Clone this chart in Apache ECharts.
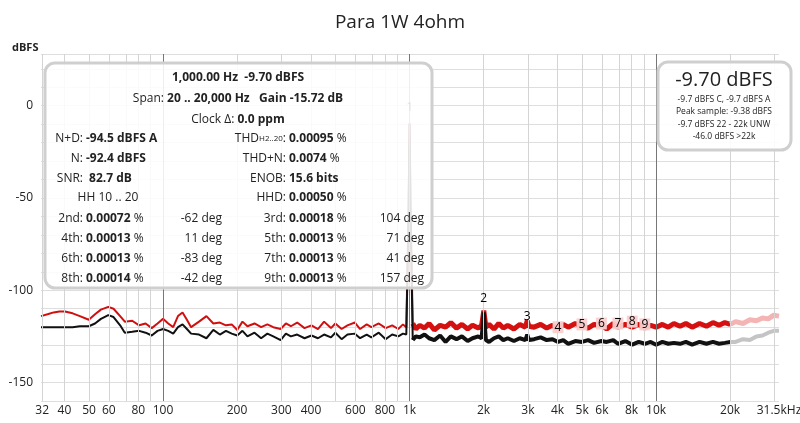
<!DOCTYPE html>
<html>
<head>
<meta charset="utf-8">
<script src="https://cdn.jsdelivr.net/npm/echarts@6/dist/echarts.min.js"></script>
<style>html,body{margin:0;padding:0;background:#fff}#chart{width:800px;height:423px}</style>
</head>
<body>
<div id="chart"></div>
<script>
// frequencies (Hz) and levels (dBFS)
var freqs = [32,34,36,38,40,43,46,50,53,56,60,63,67,70,75,80,85,90,95,100,105,110,115,120,125,130,140,150,160,170,180,190,200,210,220,235,250,265,280,300,315,330,350,375,400,425,450,480,500,530,560,600,630,670,700,750,800,850,900,940,970,990,1000,1010,1030,1060,1100,1150,1200,1260,1330,1400,1470,1550,1630,1720,1800,1900,1960,2000,2040,2100,2200,2300,2400,2500,2650,2800,2950,3000,3050,3200,3400,3600,3800,4000,4200,4400,4700,5000,5300,5600,6000,6300,6700,7000,7500,8000,8500,9000,9500,10000,10600,11200,11800,12500,13200,14000,15000,16000,17000,18000,19000,20000,21000,22500,24000,25500,27000,28500,30000,31500];
var redLevels = [-114,-113,-112,-111.5,-111.5,-112.5,-114,-116,-113,-110.5,-109,-110,-114,-117,-116.5,-119,-118,-120.5,-118,-115.5,-118,-120,-114,-112,-116,-120,-117,-114,-118,-117.5,-119,-118.5,-121.5,-117,-119.5,-118,-120,-118.5,-120,-121,-118,-119.5,-117.5,-120.5,-119,-121,-117,-120.5,-118,-121,-119,-117.5,-121,-118.5,-120,-118,-120.5,-119,-121,-118.5,-120,-60,-9.7,-60,-118,-121,-119,-120.5,-118,-121.5,-119,-120,-117.5,-120.5,-118.5,-121,-119,-120.5,-119,-111,-120,-118.5,-121,-118,-120.5,-119,-121,-118.5,-120,-116.5,-119.5,-120,-118.5,-120.5,-119,-121,-118.5,-120,-118,-119.5,-120.5,-118.5,-119,-121,-118,-120,-118.5,-120,-118.5,-120.5,-119,-120,-118.5,-120,-118,-119.5,-118,-120,-118,-119.5,-117.5,-119,-117.5,-118.5,-117,-118,-116,-116.5,-115,-115.5,-113.5,-114];
var blackLevels = [-120,-120,-120,-120,-120,-120,-119.5,-119.5,-118,-115.5,-113.5,-114.5,-119,-123,-122.5,-122,-123,-124.5,-122,-121,-122,-123.5,-120,-118.5,-121,-123.5,-124,-126,-121.5,-124,-122,-123.5,-124.5,-122,-125,-123,-126,-123.5,-125,-127,-123.5,-125,-124,-126,-124.5,-126,-124,-125.5,-123,-126.5,-124,-123.5,-126,-124,-125.5,-123,-126.5,-124,-125,-123.5,-124,-60,-9.7,-60,-127,-125,-125.5,-124,-126,-127,-124.5,-128,-125,-126.5,-125,-127.5,-126,-125,-126,-112,-127,-128,-126,-125,-127,-126,-127.5,-126,-127,-124,-127,-126.5,-125.5,-127,-126.5,-128,-127,-129,-127.5,-128,-127,-128.5,-127.5,-128,-127,-129,-127.5,-129.5,-128,-129,-128,-129.5,-128,-129,-128.5,-129,-128,-129.5,-128,-129,-128,-129,-128.5,-128,-128,-126.5,-127,-125,-124.5,-123,-122,-122];
var denseFrom = 1030;
var bandEdge = 20000;

var gridFreqs = [40,50,60,70,80,90,100,200,300,400,500,600,700,800,900,1000,2000,3000,4000,5000,6000,7000,8000,9000,10000,20000,30000];
var tickLabels = {32:'32',40:'40',50:'50',60:'60',80:'80',100:'100',200:'200',300:'300',400:'400',600:'600',800:'800',1000:'1k',2000:'2k',3000:'3k',4000:'4k',5000:'5k',6000:'6k',8000:'8k',10000:'10k',20000:'20k'};
var harmonicFreqs = [1000,2000,3000,4000,5000,6000,7000,8000,9000];
var harmonicLabelLevels = [-1,-104.5,-114,-120,-118.5,-118,-118,-117,-118.5];

function lg(f){ return Math.log10(f); }
function part(lo, hi, lv){
  var out = [];
  for (var i = 0; i < freqs.length; i++) if (freqs[i] >= lo && freqs[i] <= hi) out.push([lg(freqs[i]), lv[i]]);
  return out;
}

var vlines = [];
gridFreqs.forEach(function(f){
  var major = (f === 100 || f === 1000 || f === 10000);
  vlines.push({xAxis: lg(f), label:{show:!!tickLabels[f], formatter: tickLabels[f] || ''},
    lineStyle:{color: major ? '#777' : '#d4d4d4', width:1, type:'solid'}});
});
vlines.push({xAxis: lg(32), label:{show:true, formatter:'32'}, lineStyle:{color:'#d4d4d4', width:1, type:'solid'}});
vlines.push({xAxis: lg(31400), label:{show:false}, lineStyle:{color:'#d4d4d4', width:1, type:'solid'}});

var font = '"Open Sans", "Noto Sans", sans-serif';
var chart = echarts.init(document.getElementById('chart'));

function cell(x, y, label, value, unit){
  return [
    {type:'text', x:x, y:y, style:{text:label, font:'12px '+font, fill:'#222', align:'right', verticalAlign:'middle'}, z:101},
    {type:'text', x:x+3, y:y, style:{text:'{b|'+value+'}'+(unit||''), rich:{b:{fontWeight:'bold', fontSize:12, fontFamily:font}}, font:'12px '+font, fill:'#222', align:'left', verticalAlign:'middle'}, z:101}
  ];
}
function rtext(x, y, t){
  return {type:'text', x:x, y:y, style:{text:t, font:'12px '+font, fill:'#222', align:'right', verticalAlign:'middle'}, z:101};
}

var rows = [139,159,179,198,219,239,259,279];
var g = [
  {type:'rect', shape:{x:45, y:63, width:387, height:225, r:10}, style:{fill:'rgba(255,255,255,0.88)', stroke:'#cfcfcf', lineWidth:3}, z:100},
  {type:'text', x:238, y:78, style:{text:'{b|1,000.00 Hz  -9.70 dBFS}', rich:{b:{fontWeight:'bold', fontSize:12, fontFamily:font}}, fill:'#222', align:'center', verticalAlign:'middle'}, z:101},
  {type:'text', x:238, y:99, style:{text:'Span: {b|20 .. 20,000 Hz   Gain -15.72 dB}', rich:{b:{fontWeight:'bold', fontSize:12, fontFamily:font}}, font:'12px '+font, fill:'#222', align:'center', verticalAlign:'middle'}, z:101},
  {type:'text', x:238, y:120, style:{text:'Clock \u0394: {b|0.0 ppm}', rich:{b:{fontWeight:'bold', fontSize:12, fontFamily:font}}, font:'12px '+font, fill:'#222', align:'center', verticalAlign:'middle'}, z:101},
  {type:'text', x:108, y:rows[3], style:{text:'HH 10 .. 20', font:'12px '+font, fill:'#222', align:'center', verticalAlign:'middle'}, z:101},
  {type:'rect', shape:{x:658, y:62, width:133, height:88, r:10}, style:{fill:'rgba(255,255,255,0.9)', stroke:'#cfcfcf', lineWidth:3}, z:100},
  {type:'text', x:724, y:80, style:{text:'-9.70 dBFS', font:'20px '+font, fill:'#222', align:'center', verticalAlign:'middle'}, z:101},
  {type:'text', x:724, y:100, style:{text:'-9.7 dBFS C, -9.7 dBFS A', font:'8.5px '+font, fill:'#222', align:'center', verticalAlign:'middle'}, z:101},
  {type:'text', x:724, y:112, style:{text:'Peak sample: -9.38 dBFS', font:'8.5px '+font, fill:'#222', align:'center', verticalAlign:'middle'}, z:101},
  {type:'text', x:724, y:125, style:{text:'-9.7 dBFS 22 - 22k UNW', font:'8.5px '+font, fill:'#222', align:'center', verticalAlign:'middle'}, z:101},
  {type:'text', x:724, y:137, style:{text:'-46.0 dBFS >22k', font:'8.5px '+font, fill:'#222', align:'center', verticalAlign:'middle'}, z:101}
];
g = g.concat(cell(83, rows[0], 'N+D:', '-94.5 dBFS A'));
g = g.concat(cell(83, rows[1], 'N:', '-92.4 dBFS'));
g = g.concat(cell(83, rows[2], 'SNR:', ' 82.7 dB'));
g.push({type:'text', x:286, y:rows[0], style:{text:'THD{s|H2..20}:', rich:{s:{fontSize:8, fontFamily:font}}, font:'12px '+font, fill:'#222', align:'right', verticalAlign:'middle'}, z:101});
g.push({type:'text', x:289, y:rows[0], style:{text:'{b|0.00095} %', rich:{b:{fontWeight:'bold', fontSize:12, fontFamily:font}}, font:'12px '+font, fill:'#222', align:'left', verticalAlign:'middle'}, z:101});
g = g.concat(cell(286, rows[1], 'THD+N:', '0.0074', ' %'));
g = g.concat(cell(286, rows[2], 'ENOB:', '15.6 bits'));
g = g.concat(cell(286, rows[3], 'HHD:', '0.00050', ' %'));
var hRows = [
  ['2nd:','0.00072','-62 deg','3rd:','0.00018','104 deg'],
  ['4th:','0.00013','11 deg','5th:','0.00013','71 deg'],
  ['6th:','0.00013','-83 deg','7th:','0.00013','41 deg'],
  ['8th:','0.00014','-42 deg','9th:','0.00013','157 deg']
];
hRows.forEach(function(r, i){
  var y = rows[4+i];
  g = g.concat(cell(83, y, r[0], r[1], ' %'));
  g.push(rtext(222, y, r[2]));
  g = g.concat(cell(286, y, r[3], r[4], ' %'));
  g.push(rtext(424, y, r[5]));
});

function trace(lo, hi, lv, color, width, z){
  return {type:'line', data:part(lo, hi, lv), showSymbol:false, lineStyle:{color:color, width:width, join:'bevel'}, z:z, silent:true};
}
var mlSeries = trace(32, denseFrom, redLevels, '#d01010', 2, 3);
mlSeries.markLine = {silent:true, symbol:'none', animation:false, label:{position:'start', color:'#222', fontFamily:font, fontSize:12, distance:4}, data:vlines};

var xMax = lg(31500);
chart.setOption({
  animation:false,
  title:{text:'Para 1W 4ohm', left:'center', top:8, textStyle:{fontFamily:font, fontSize:19, fontWeight:'normal', color:'#222'}},
  graphic: g.concat([{type:'text', x:12, y:48, style:{text:'dBFS', font:'bold 11px '+font, fill:'#222', verticalAlign:'middle'}}]),
  grid:{left:41, right:21, top:54, bottom:22, outerBoundsMode:'none', containLabel:false},
  xAxis:{type:'value', min:lg(32), max:xMax, axisTick:{show:false}, splitLine:{show:false}, axisLine:{show:false},
    axisLabel:{show:true, showMaxLabel:true, showMinLabel:false, color:'#222', fontFamily:font, fontSize:12, margin:4,
      formatter:function(v){ return Math.abs(v - xMax) < 1e-6 ? '31.5kHz' : ''; }}},
  yAxis:{type:'value', min:-160, max:28, interval:10,
    axisLabel:{formatter:function(v){ return v % 50 === 0 ? String(v) : ''; }, color:'#222', fontFamily:font, fontSize:12, margin:8},
    axisTick:{show:false}, axisLine:{show:false}, splitLine:{lineStyle:{color:'#dedede'}}},
  series:[
    mlSeries,
    trace(denseFrom, bandEdge, redLevels, '#d41010', 5, 3),
    trace(bandEdge, 31500, redLevels, '#f4b4b4', 5, 3),
    trace(32, denseFrom, blackLevels, '#111', 2, 4),
    trace(denseFrom, bandEdge, blackLevels, '#111', 4, 4),
    trace(bandEdge, 31500, blackLevels, '#c4c4c4', 4, 2),
    {type:'scatter', symbolSize:1, z:20, silent:true, itemStyle:{color:'rgba(0,0,0,0)'},
      labelLayout:{hideOverlap:false},
      data: harmonicFreqs.map(function(f, i){
        return {value:[lg(f), harmonicLabelLevels[i]], name:String(i+1),
          label:{color:'#000', opacity:1, backgroundColor: i >= 3 ? 'rgba(250,205,205,0.95)' : 'transparent'}};
      }),
      label:{show:true, position:'inside', formatter:'{b}', color:'#000', opacity:1, fontFamily:font, fontSize:12, padding:[0,2]}}
  ]
});
</script>
</body>
</html>
